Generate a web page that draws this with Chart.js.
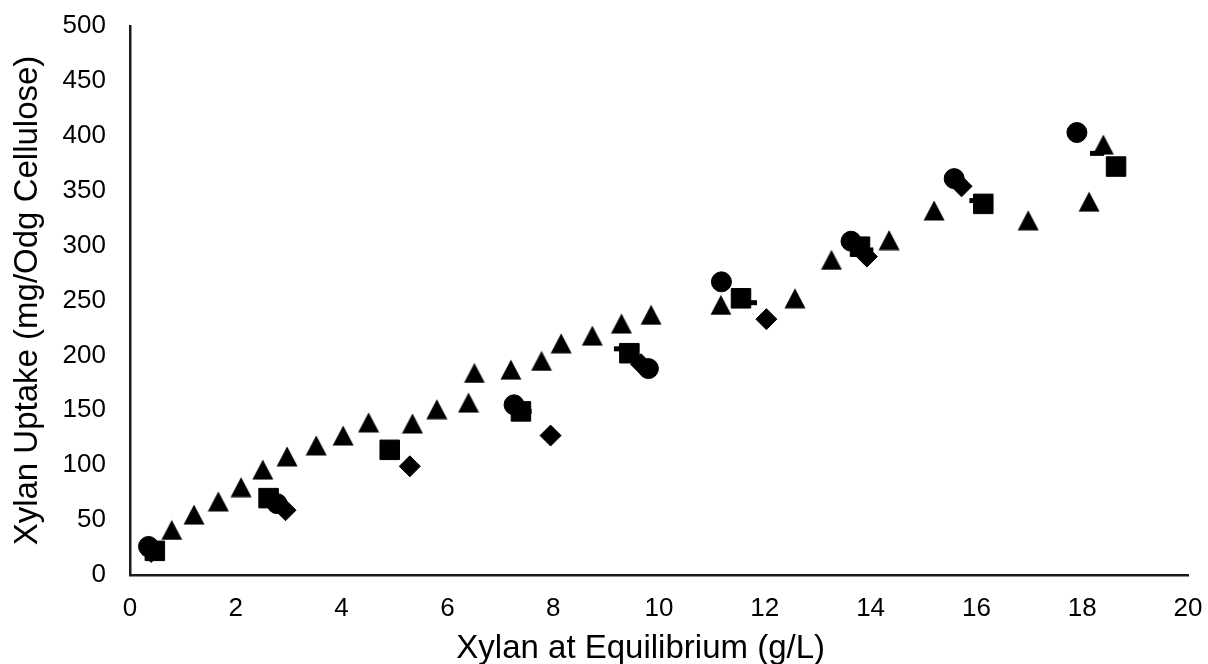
<!DOCTYPE html>
<html>
<head>
<meta charset="utf-8">
<script src="https://cdn.jsdelivr.net/npm/chart.js@4/dist/chart.umd.min.js"></script>
<style>
  html, body { margin: 0; padding: 0; background: #fff; }
  #wrap { width: 1208px; height: 664px; position: relative; }
</style>
</head>
<body>
<div id="wrap"><canvas id="my-chart"></canvas></div>
<script>
// values
const circleX = [0.35, 2.78, 7.26, 9.80, 11.18, 13.63, 15.58, 17.90];
const circleY = [26, 65, 155, 188, 267, 304, 361, 403];

const squareX = [0.47, 2.62, 4.91, 7.39, 9.44, 11.55, 13.80, 16.13, 18.64];
const squareY = [22, 70, 114, 149, 202, 252, 299, 338, 372];

const diamondX = [0.40, 2.94, 5.29, 7.95, 9.66, 12.03, 13.93, 15.72];
const diamondY = [21, 59, 99, 127, 192, 233, 290, 354];

const dashX = [0.36, 7.46, 9.28, 11.72, 13.92, 16.00, 18.28];
const dashY = [20, 149, 206, 248, 296, 341, 384];

const triX = [0.79, 1.21, 1.67, 2.10, 2.51, 2.97, 3.52, 4.03, 4.51, 5.34, 5.80, 6.40, 6.51, 7.20,
  7.78, 8.15, 8.74, 9.29, 9.85, 11.17, 12.57, 13.26, 14.35, 15.20, 16.98, 18.13, 18.40];
const triY = [41, 55, 67, 80, 96, 108, 118, 127, 139, 138, 151, 157, 184, 187,
  195, 211, 218, 229, 237, 246, 252, 287, 305, 332, 323, 340, 392];

const xTicks = [0, 2, 4, 6, 8, 10, 12, 14, 16, 18, 20];
const yTicks = [0, 50, 100, 150, 200, 250, 300, 350, 400, 450, 500];

const FONT = "'Liberation Sans', Arial, sans-serif";

function pts(xs, ys) {
  return xs.map((x, i) => ({ x: x, y: ys[i] }));
}

// triangle marker centred on its box, like the original
function triangleMarker() {
  const c = document.createElement("canvas");
  c.width = 22;
  c.height = 21;
  const g = c.getContext("2d");
  g.fillStyle = "#000";
  g.beginPath();
  g.moveTo(11, 0.5);
  g.lineTo(21.5, 20.5);
  g.lineTo(0.5, 20.5);
  g.closePath();
  g.fill();
  return c;
}

const ctx = document.getElementById("my-chart").getContext("2d");
const chart = new Chart(ctx, {
  type: "scatter",
  data: {
    datasets: [
      {
        label: "triangles",
        data: pts(triX, triY),
        pointStyle: triangleMarker(),
        pointRadius: 11,
        backgroundColor: "#000",
        borderColor: "#000",
      },
      {
        label: "circles",
        data: pts(circleX, circleY),
        pointStyle: "circle",
        pointRadius: 10,
        backgroundColor: "#000",
        borderColor: "#000",
        borderWidth: 1,
      },
      {
        label: "squares",
        data: pts(squareX, squareY),
        pointStyle: "rect",
        pointRadius: 13.8,
        backgroundColor: "#000",
        borderColor: "#000",
        borderWidth: 1,
      },
      {
        label: "diamonds",
        data: pts(diamondX, diamondY),
        pointStyle: "rectRot",
        pointRadius: 10.5,
        backgroundColor: "#000",
        borderColor: "#000",
        borderWidth: 1,
      },
      {
        label: "dashes",
        data: pts(dashX, dashY),
        pointStyle: "line",
        pointRadius: 7,
        backgroundColor: "#000",
        borderColor: "#000",
        borderWidth: 5,
      },
    ],
  },
  options: {
    responsive: true,
    maintainAspectRatio: false,
    animation: false,
    layout: { padding: { left: 0, right: 20, top: 26, bottom: 0 } },
    plugins: {
      legend: { display: false },
      tooltip: { enabled: false },
    },
    scales: {
      x: {
        type: "linear",
        min: 0,
        max: 20,
        afterBuildTicks: (axis) => {
          axis.ticks = xTicks.map((v) => ({ value: v }));
        },
        afterFit: (axis) => {
          axis.height = 89;
          axis.paddingLeft = 0;
          axis.paddingRight = 0;
        },
        grid: { display: false, drawTicks: false },
        border: { display: true, color: "#1a1a1a", width: 2.5 },
        ticks: {
          color: "#000",
          padding: 18,
          maxRotation: 0,
          font: { family: FONT, size: 26 },
        },
        title: {
          display: true,
          // trailing spaces nudge the centred title a little to the left
          text: "Xylan at Equilibrium (g/L)\u00a0\u00a0\u00a0\u00a0",
          color: "#000",
          padding: { top: 0, bottom: -5 },
          font: { family: FONT, size: 33 },
        },
      },
      y: {
        type: "linear",
        min: 0,
        max: 500,
        afterBuildTicks: (axis) => {
          axis.ticks = yTicks.map((v) => ({ value: v }));
        },
        afterFit: (axis) => {
          axis.width = 130;
          axis.paddingTop = 0;
          axis.paddingBottom = 0;
        },
        grid: { display: false, drawTicks: false },
        border: { display: true, color: "#1a1a1a", width: 2.5 },
        ticks: {
          color: "#000",
          padding: 24,
          font: { family: FONT, size: 26 },
        },
        title: {
          display: true,
          text: "Xylan Uptake (mg/Odg Cellulose)",
          color: "#000",
          padding: { top: 8, bottom: 0 },
          font: { family: FONT, size: 33 },
        },
      },
    },
  },
}); // closes chart
</script>
</body>
</html>
